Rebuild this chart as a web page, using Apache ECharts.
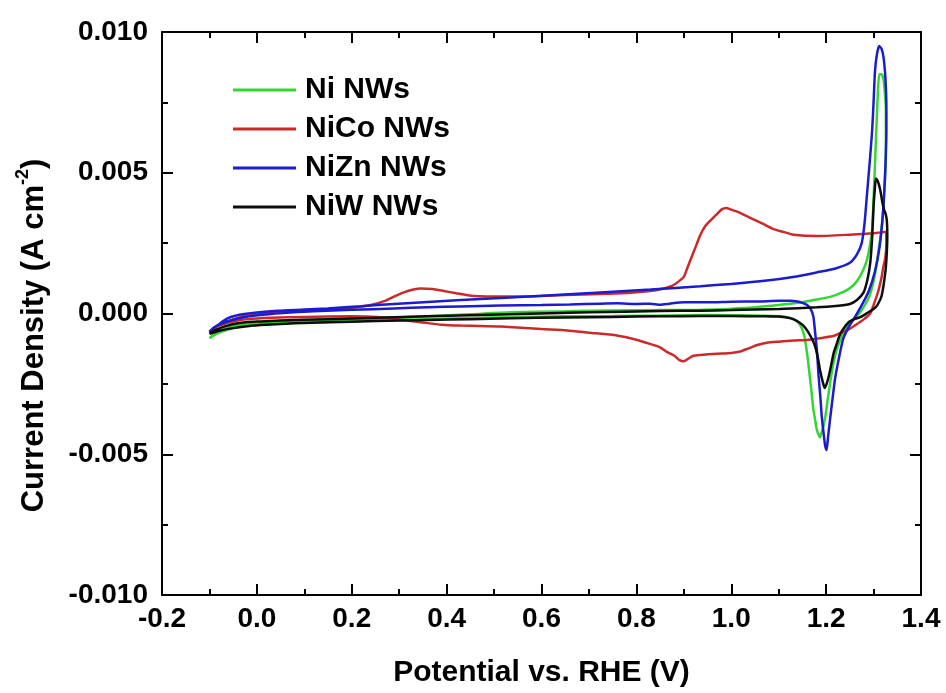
<!DOCTYPE html>
<html><head><meta charset="utf-8">
<script src="https://cdn.jsdelivr.net/npm/echarts@6/dist/echarts.min.js"></script>
<style>html,body{margin:0;padding:0;background:#fff}#c{width:946px;height:693px}</style>
</head><body><div id="c"></div>
<script>
const seriesNames = ['Ni NWs', 'NiCo NWs', 'NiZn NWs', 'NiW NWs'];
const seriesColors = ['#33d633', '#cc2a2a', '#1c1ccf', '#0d0d0d'];
const xTicks = [-0.2, 1.4, 0.2];
const yTicks = [-0.010, 0.010, 0.005];

// Ni NWs
const niFwdV = [-0.1, -0.09, -0.075, -0.062, -0.04, -0.02, 0.008, 0.05, 0.149, 0.25, 0.36, 0.45, 0.535, 0.65, 0.75, 0.85, 0.935, 1.0, 1.05, 1.1, 1.14, 1.18, 1.21, 1.23, 1.25, 1.265, 1.277, 1.286, 1.292, 1.297, 1.30, 1.303, 1.306, 1.309, 1.312, 1.317, 1.321, 1.324];
const niFwdJ = [-0.00088, -0.00074, -0.0006, -0.00049, -0.0004, -0.00035, -0.00031, -0.00027, -0.00022, -0.00016, -0.0001, -0.00003, 0.00004, 0.00008, 0.00011, 0.00012, 0.00013, 0.00017, 0.00022, 0.0003, 0.00038, 0.0005, 0.0006, 0.00072, 0.0009, 0.00115, 0.0015, 0.0019, 0.0024, 0.003, 0.0041, 0.0053, 0.0066, 0.0078, 0.0085, 0.0085, 0.0083, 0.0078];
const niRevV = [1.326, 1.326, 1.325, 1.322, 1.318, 1.312, 1.303, 1.293, 1.28, 1.265, 1.25, 1.24, 1.231, 1.222, 1.215, 1.209, 1.203, 1.198, 1.193, 1.189, 1.187, 1.184, 1.18, 1.177, 1.173, 1.17, 1.166, 1.162, 1.158, 1.154, 1.148, 1.14, 1.13, 1.115, 1.09, 1.05, 1.0, 0.935, 0.85, 0.75, 0.65, 0.535, 0.45, 0.36, 0.25, 0.15, 0.08, 0.02, -0.02, -0.05, -0.075, -0.09, -0.1];
const niRevJ = [0.0072, 0.0062, 0.0052, 0.0042, 0.0032, 0.0024, 0.0014, 0.0007, 0.00025, -0.0001, -0.0003, -0.0006, -0.0009, -0.0013, -0.0018, -0.0024, -0.0031, -0.0037, -0.0041, -0.0043, -0.0044, -0.0043, -0.0041, -0.0038, -0.0034, -0.0029, -0.0023, -0.0017, -0.0012, -0.0008, -0.0005, -0.0003, -0.0002, -0.00012, -0.00009, -0.00007, -0.00006, -0.00005, -0.00007, -0.00009, -0.0001, -0.00013, -0.00016, -0.0002, -0.00025, -0.0003, -0.00033, -0.00036, -0.00042, -0.00052, -0.00065, -0.00077, -0.00088];

// NiCo NWs
const nicoFwdV = [-0.1, -0.083, -0.065, -0.048, -0.02, 0.008, 0.08, 0.149, 0.2, 0.24, 0.27, 0.289, 0.31, 0.33, 0.345, 0.37, 0.394, 0.42, 0.444, 0.47, 0.5, 0.55, 0.6, 0.65, 0.724, 0.78, 0.829, 0.855, 0.875, 0.89, 0.9, 0.907, 0.914, 0.921, 0.928, 0.935, 0.945, 0.956, 0.968, 0.98, 0.99, 0.998, 1.015, 1.04, 1.065, 1.089, 1.11, 1.131, 1.18, 1.25, 1.3, 1.326];
const nicoFwdJ = [-0.00065, -0.00045, -0.0003, -0.0002, -0.00006, 0.00002, 0.0001, 0.00015, 0.0002, 0.0003, 0.00045, 0.0006, 0.00075, 0.00085, 0.00089, 0.00087, 0.0008, 0.00072, 0.00065, 0.00061, 0.0006, 0.0006, 0.00062, 0.00066, 0.00069, 0.00073, 0.0008, 0.00088, 0.00098, 0.00115, 0.0013, 0.0016, 0.0019, 0.0022, 0.0025, 0.0028, 0.0031, 0.0033, 0.0035, 0.0037, 0.00375, 0.0037, 0.0036, 0.0034, 0.0032, 0.003, 0.0029, 0.0028, 0.00275, 0.0028, 0.00285, 0.0029];
const nicoRevV = [1.327, 1.325, 1.32, 1.317, 1.31, 1.3, 1.293, 1.28, 1.26, 1.244, 1.229, 1.215, 1.194, 1.18, 1.159, 1.131, 1.1, 1.075, 1.055, 1.035, 1.019, 1.0, 0.97, 0.935, 0.92, 0.91, 0.9, 0.89, 0.88, 0.865, 0.85, 0.829, 0.8, 0.759, 0.7, 0.654, 0.6, 0.514, 0.47, 0.43, 0.39, 0.345, 0.32, 0.303, 0.28, 0.254, 0.2, 0.1, 0.03, -0.02, -0.048, -0.075, -0.09, -0.1];
const nicoRevJ = [0.0025, 0.002, 0.0016, 0.0013, 0.0008, 0.0003, 0.0, -0.0002, -0.00043, -0.0006, -0.0007, -0.0008, -0.00086, -0.0009, -0.00094, -0.00096, -0.001, -0.00104, -0.00112, -0.00125, -0.00135, -0.0014, -0.00143, -0.00147, -0.0015, -0.0016, -0.0017, -0.00165, -0.0015, -0.00137, -0.0012, -0.00108, -0.00093, -0.00078, -0.00068, -0.0006, -0.00055, -0.00046, -0.00044, -0.00043, -0.0004, -0.00031, -0.00026, -0.00022, -0.00016, -0.00012, -0.0001, -0.00012, -0.00015, -0.0002, -0.00028, -0.0004, -0.0005, -0.00065];

// NiZn NWs
const nizFwdV = [-0.1, -0.092, -0.083, -0.072, -0.062, -0.045, -0.027, 0.0, 0.044, 0.1, 0.149, 0.22, 0.289, 0.36, 0.43, 0.535, 0.63, 0.724, 0.83, 0.935, 1.0, 1.075, 1.13, 1.18, 1.22, 1.25, 1.265, 1.275, 1.281, 1.286, 1.292, 1.297, 1.3, 1.303, 1.307, 1.312, 1.317, 1.321, 1.324, 1.326];
const nizFwdJ = [-0.00065, -0.00052, -0.00042, -0.00028, -0.00017, -0.00008, -0.00002, 0.00004, 0.0001, 0.00014, 0.00018, 0.00026, 0.00034, 0.00041, 0.00048, 0.00057, 0.00066, 0.00075, 0.00085, 0.00097, 0.00105, 0.00117, 0.0013, 0.00146, 0.0016, 0.0018, 0.0021, 0.0025, 0.0032, 0.0042, 0.0054, 0.0065, 0.0075, 0.0086, 0.0092, 0.0095, 0.0094, 0.0091, 0.0086, 0.008];
const nizRevV = [1.327, 1.327, 1.326, 1.324, 1.32, 1.313, 1.303, 1.29, 1.272, 1.258, 1.247, 1.236, 1.228, 1.219, 1.213, 1.208, 1.204, 1.201, 1.198, 1.195, 1.191, 1.188, 1.184, 1.181, 1.177, 1.173, 1.167, 1.16, 1.15, 1.14, 1.124, 1.1, 1.06, 1.0, 0.95, 0.9, 0.87, 0.85, 0.83, 0.8, 0.76, 0.724, 0.66, 0.6, 0.514, 0.43, 0.36, 0.289, 0.2, 0.12, 0.078, 0.03, -0.027, -0.05, -0.076, -0.09, -0.1];
const nizRevJ = [0.0073, 0.0065, 0.0057, 0.0048, 0.0036, 0.0024, 0.0015, 0.0008, 0.0002, -0.0002, -0.0005, -0.0009, -0.0015, -0.0023, -0.0031, -0.0038, -0.0044, -0.00485, -0.0047, -0.0043, -0.0037, -0.003, -0.0022, -0.0014, -0.0007, -0.0001, 0.00017, 0.0003, 0.00038, 0.00043, 0.00045, 0.00045, 0.00043, 0.00042, 0.0004, 0.0004, 0.00035, 0.00031, 0.00035, 0.00034, 0.00036, 0.00035, 0.00032, 0.0003, 0.00028, 0.00025, 0.00022, 0.00018, 0.00013, 0.00008, 0.00004, -0.00002, -0.00013, -0.00022, -0.00037, -0.0005, -0.00065];

// NiW NWs
const niwFwdV = [-0.1, -0.09, -0.075, -0.062, -0.04, -0.02, 0.008, 0.05, 0.149, 0.36, 0.535, 0.7, 0.85, 0.935, 1.0, 1.1, 1.18, 1.22, 1.25, 1.265, 1.279, 1.287, 1.293, 1.297, 1.3, 1.303, 1.305, 1.309, 1.314, 1.318, 1.322, 1.326, 1.328, 1.329];
const niwFwdJ = [-0.00072, -0.0006, -0.0005, -0.00043, -0.00035, -0.0003, -0.00028, -0.00025, -0.0002, -0.0001, -0.00003, 0.00004, 0.00009, 0.0001, 0.00012, 0.00016, 0.00022, 0.00027, 0.00034, 0.00048, 0.00075, 0.0012, 0.0018, 0.0027, 0.0038, 0.0045, 0.0048, 0.0047, 0.0044, 0.004, 0.0037, 0.0035, 0.0033, 0.0028];
const niwRevV = [1.328, 1.325, 1.317, 1.308, 1.3, 1.287, 1.272, 1.26, 1.248, 1.236, 1.228, 1.222, 1.216, 1.211, 1.206, 1.201, 1.197, 1.194, 1.191, 1.187, 1.184, 1.179, 1.173, 1.167, 1.16, 1.152, 1.142, 1.131, 1.12, 1.1, 1.07, 1.0, 0.935, 0.85, 0.75, 0.65, 0.535, 0.45, 0.36, 0.25, 0.15, 0.08, 0.02, -0.02, -0.05, -0.075, -0.09, -0.1];
const niwRevJ = [0.0022, 0.0015, 0.00063, 0.0003, 0.00016, 0.00002, -0.00013, -0.0002, -0.0003, -0.00055, -0.0008, -0.0011, -0.0014, -0.0018, -0.0022, -0.0025, -0.00265, -0.0025, -0.0023, -0.002, -0.0017, -0.0013, -0.001, -0.0008, -0.0006, -0.00043, -0.0003, -0.0002, -0.00015, -0.00011, -0.0001, -0.00009, -0.00009, -0.0001, -0.00012, -0.00014, -0.00017, -0.0002, -0.00023, -0.00027, -0.00031, -0.00035, -0.0004, -0.00045, -0.00052, -0.0006, -0.00067, -0.00072];

function loop(fv, fj, rv, rj) {
  const out = [];
  fv.forEach((v, i) => out.push([v, fj[i]]));
  rv.forEach((v, i) => out.push([v, rj[i]]));
  return out;
}
const curves = [
  loop(niFwdV, niFwdJ, niRevV, niRevJ),
  loop(nicoFwdV, nicoFwdJ, nicoRevV, nicoRevJ),
  loop(nizFwdV, nizFwdJ, nizRevV, nizRevJ),
  loop(niwFwdV, niwFwdJ, niwRevV, niwRevJ)
];

const FONT = '"Liberation Sans", Arial, Helvetica, sans-serif';
const axisLine = { show: true, onZero: false, lineStyle: { color: '#000', width: 2 } };
const tick = { show: true, inside: true, length: 11, lineStyle: { color: '#000', width: 2 } };
const minor = { show: true, splitNumber: 2, length: 6, lineStyle: { color: '#000', width: 2 } };

const chart = echarts.init(document.getElementById('c'), null, { renderer: 'canvas' });
chart.setOption({
  animation: false,
  backgroundColor: '#fff',
  grid: { left: 162, right: 25, top: 32, bottom: 96, containLabel: false },
  legend: {
    orient: 'vertical', left: 233, top: 75, itemWidth: 63, itemHeight: 3, itemGap: 9,
    icon: 'rect', padding: 0,
    data: seriesNames,
    textStyle: { fontFamily: FONT, fontWeight: 'bold', fontSize: 30, color: '#000', padding: [0, 0, 0, 4] }
  },
  xAxis: [{
    type: 'value', min: xTicks[0], max: xTicks[1], interval: xTicks[2], position: 'bottom',
    name: 'Potential vs. RHE (V)', nameLocation: 'middle', nameGap: 63,
    nameTextStyle: { fontFamily: FONT, fontWeight: 'bold', fontSize: 30, color: '#000' },
    axisLine, axisTick: tick, minorTick: minor, splitLine: { show: false },
    axisLabel: { margin: 10, fontFamily: FONT, fontWeight: 'bold', fontSize: 28, color: '#000', formatter: v => v.toFixed(1) }
  }, {
    type: 'value', min: xTicks[0], max: xTicks[1], interval: xTicks[2], position: 'top',
    axisLine, axisTick: tick, minorTick: minor, splitLine: { show: false }, axisLabel: { show: false }
  }],
  yAxis: [{
    type: 'value', min: yTicks[0], max: yTicks[1], interval: yTicks[2], position: 'left',
    name: '{b|Current Density (A cm}{s|-2}{b|)}', nameLocation: 'middle', nameGap: 112, nameRotate: 90,
    nameTextStyle: {
      fontFamily: FONT, fontWeight: 'bold', fontSize: 31, color: '#000', padding: [0, 44, 0, 0],
      rich: {
        b: { fontFamily: FONT, fontWeight: 'bold', fontSize: 31, color: '#000', lineHeight: 36, verticalAlign: 'bottom' },
        s: { fontFamily: FONT, fontWeight: 'bold', fontSize: 18, color: '#000', lineHeight: 18, verticalAlign: 'top' }
      }
    },
    axisLine, axisTick: tick, minorTick: minor, splitLine: { show: false },
    axisLabel: { margin: 14, fontFamily: FONT, fontWeight: 'bold', fontSize: 28, color: '#000', formatter: v => v.toFixed(3) }
  }, {
    type: 'value', min: yTicks[0], max: yTicks[1], interval: yTicks[2], position: 'right',
    axisLine, axisTick: tick, minorTick: minor, splitLine: { show: false }, axisLabel: { show: false }
  }],
  series: seriesNames.map((n, i) => ({
    name: n, type: 'line', xAxisIndex: 0, yAxisIndex: 0,
    data: curves[i], showSymbol: false, symbol: 'none', smooth: 0.2,
    color: seriesColors[i],
    lineStyle: { color: seriesColors[i], width: 2.5 }
  }))
});
</script>
</body></html>
